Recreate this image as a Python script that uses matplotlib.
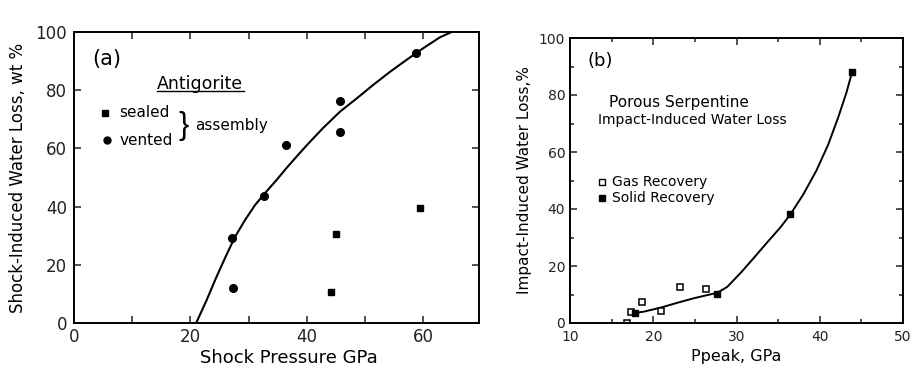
import matplotlib
matplotlib.use("Agg")
import matplotlib.pyplot as plt
from matplotlib.ticker import MultipleLocator

# Panel (a): Antigorite
vented_x = [27.1, 27.4, 32.7, 36.5, 45.7, 45.7, 58.7]
vented_y = [29.3, 11.9, 43.6, 61.3, 76.4, 65.7, 92.7]
sealed_x = [45.0, 44.2, 59.5]
sealed_y = [30.5, 10.8, 39.6]
curve_a_x = [21.0, 22.8, 24.5, 26.2, 27.7, 29.4, 31.1, 32.8, 34.8, 36.5, 38.3,
             40.1, 42.8, 45.7, 48.6, 51.4, 54.3, 57.2, 60.0, 62.9, 64.9]
curve_a_y = [0.0, 7.9, 15.9, 23.4, 29.7, 35.4, 40.5, 44.6, 49.1, 53.2, 57.3,
             61.3, 67.0, 72.6, 77.2, 81.8, 86.3, 90.5, 94.4, 98.2, 100.0]

# Panel (b): Porous serpentine
gas_x = [16.9, 17.3, 18.7, 20.9, 23.2, 26.3]
gas_y = [0.0, 4.0, 7.5, 4.3, 12.5, 11.8]
solid_x = [17.8, 27.7, 36.4, 43.9]
solid_y = [3.6, 10.2, 38.4, 88.2]
curve_b_x = [17.5, 18.9, 20.9, 22.9, 24.9, 26.5, 27.7, 28.9, 30.5, 32.1, 33.6,
             35.2, 36.4, 38.0, 39.6, 41.0, 42.2, 43.2, 43.9]
curve_b_y = [3.4, 4.0, 5.4, 7.1, 8.7, 9.8, 10.6, 12.7, 17.6, 22.9, 28.0,
             33.3, 37.8, 45.0, 53.5, 62.5, 72.0, 80.8, 88.2]

W, H = 913, 371
fig = plt.figure(figsize=(W / 100, H / 100), dpi=100, facecolor="white")
plt.rcParams["font.family"] = ["DejaVu Sans"]


def style(ax, fs):
    for s in ax.spines.values():
        s.set_linewidth(1.4)
    ax.tick_params(which="both", direction="in", top=True, right=True,
                   labelsize=fs, length=5, width=1.1, colors="#222")


# ---- panel (a)
ax = fig.add_axes([74 / W, 1 - 323 / H, 405 / W, 291 / H])
ax.plot(curve_a_x, curve_a_y, color="black", lw=1.5, solid_joinstyle="round")
ax.plot(vented_x, vented_y, "o", color="black", ms=5.5)
ax.plot(sealed_x, sealed_y, "s", color="black", ms=5)
ax.set_xlim(0, 69.6)
ax.set_ylim(0, 100)
ax.xaxis.set_major_locator(MultipleLocator(20))
ax.xaxis.set_minor_locator(MultipleLocator(10))
ax.yaxis.set_major_locator(MultipleLocator(20))
style(ax, 12)
ax.tick_params(which="minor", length=5)
ax.tick_params(axis="y", pad=5)
ax.set_xlabel("Shock Pressure GPa", fontsize=13, labelpad=2, x=0.53)
ax.set_ylabel("Shock-Induced Water Loss, wt %", fontsize=12, labelpad=6)
ax.text(5.6, 90.8, "(a)", fontsize=15, ha="center", va="center")
ax.text(21.6, 82.2, "Antigorite", fontsize=12.5, ha="center", va="center")
ax.plot([14.2, 29.2], [79.6, 79.6], color="black", lw=1)
ax.plot([5.4], [72.2], "s", color="black", ms=5)
ax.text(7.8, 72.2, "sealed", fontsize=11, va="center")
ax.plot([5.6], [62.8], "o", color="black", ms=5)
ax.text(7.8, 62.8, "vented", fontsize=11, va="center")
ax.text(18.9, 67.8, "}", fontsize=22, va="center", ha="center",
        family=["Liberation Sans", "DejaVu Sans"], fontweight="light")
ax.text(20.9, 67.8, "assembly", fontsize=11, va="center")

# ---- panel (b)
bx = fig.add_axes([570 / W, 1 - 323 / H, 333 / W, 285 / H])
bx.plot(curve_b_x, curve_b_y, color="black", lw=1.4, solid_joinstyle="round")
bx.plot(gas_x, gas_y, "s", mfc="white", mec="black", mew=1.1, ms=4.5)
bx.plot(solid_x, solid_y, "s", color="black", ms=4.5)
bx.set_xlim(10, 50)
bx.set_ylim(0, 100)
bx.xaxis.set_major_locator(MultipleLocator(10))
bx.xaxis.set_minor_locator(MultipleLocator(5))
bx.yaxis.set_major_locator(MultipleLocator(20))
bx.yaxis.set_minor_locator(MultipleLocator(10))
style(bx, 10)
bx.tick_params(which="minor", length=3)
bx.tick_params(axis="x", pad=5)
bx.set_xlabel("Ppeak, GPa", fontsize=11.5, labelpad=4)
bx.set_ylabel("Impact-Induced Water Loss,%", fontsize=11, labelpad=5)
bx.text(13.6, 91.8, "(b)", fontsize=13, ha="center", va="center")
bx.text(23.1, 77.2, "Porous Serpentine", fontsize=11, ha="center", va="center")
bx.text(24.7, 71.1, "Impact-Induced Water Loss", fontsize=10, ha="center", va="center")
bx.plot([13.8], [49.4], "s", mfc="white", mec="black", mew=1, ms=4)
bx.text(15.0, 49.4, "Gas Recovery", fontsize=10, va="center")
bx.plot([13.8], [43.9], "s", color="black", ms=4)
bx.text(15.0, 43.9, "Solid Recovery", fontsize=10, va="center")

fig.savefig("out.png", dpi=100, facecolor="white")
